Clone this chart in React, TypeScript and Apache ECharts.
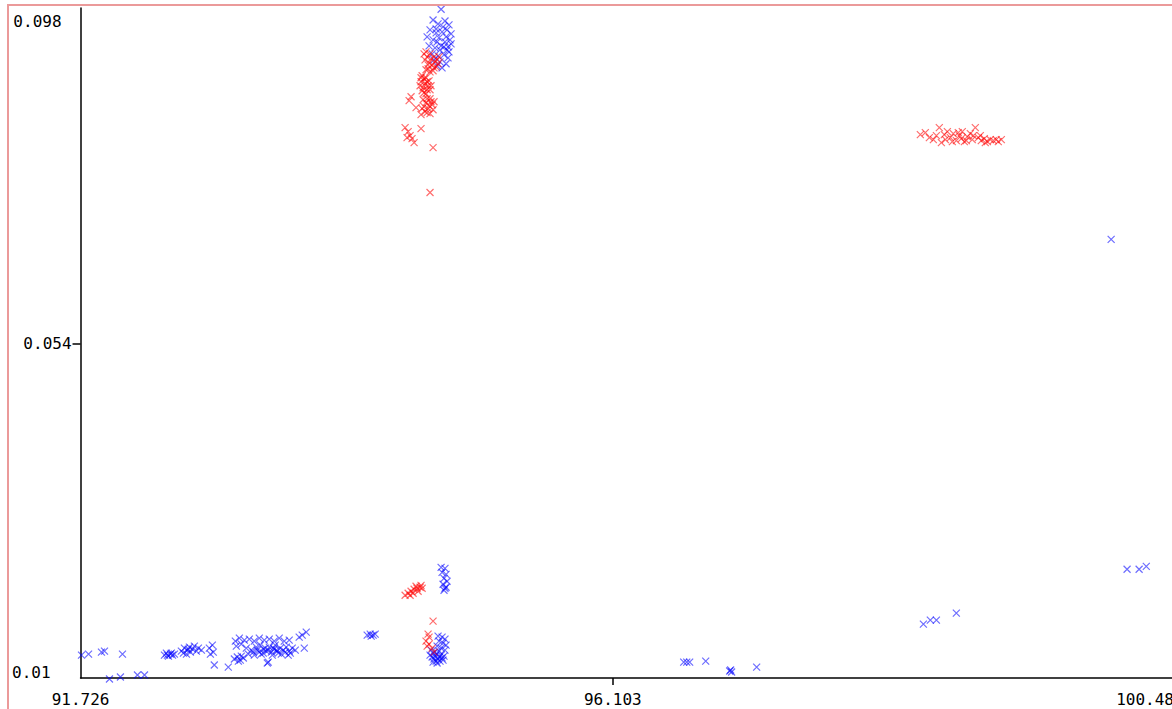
import React, { useEffect, useRef } from "react";
import * as echarts from "echarts";

// Axis ranges and tick labels
const xRange = [91.726, 100.759];
const yRange = [0.01, 0.09826];
const xTickValues = [91.726, 96.103, 100.48];
const xTickText = ["91.726", "96.103", "100.48"];
const yTickValues = [0.01, 0.054, 0.098];
const yTickText = ["0.01", "0.054", "0.098"];

// Blue series points [x, y]
const bluePoints: [number, number][] = [
  [91.734, 0.01302], [91.792, 0.01315], [91.898, 0.01341], [91.923, 0.01355], [92.071, 0.01315],
  [91.964, 0.00987], [92.054, 0.01013], [92.194, 0.01039], [92.252, 0.01039],
  [92.416, 0.01302], [92.432, 0.01328], [92.449, 0.01289], [92.465, 0.01315], [92.482, 0.01302],
  [92.498, 0.01315], [92.44, 0.01302], [92.473, 0.01328],
  [92.555, 0.01355], [92.58, 0.01394], [92.597, 0.01315], [92.605, 0.01368], [92.621, 0.01407],
  [92.629, 0.01341], [92.646, 0.01381], [92.662, 0.0142], [92.679, 0.01355], [92.695, 0.01394],
  [92.572, 0.01328], [92.613, 0.01381], [92.72, 0.01368], [92.785, 0.01394], [92.81, 0.01433],
  [92.794, 0.01315], [92.818, 0.01341],
  [92.826, 0.01171], [92.941, 0.01144],
  [92.999, 0.01486], [93.032, 0.01525], [93.073, 0.01499], [93.114, 0.01512], [93.155, 0.01486],
  [93.196, 0.01525], [93.237, 0.01499], [93.278, 0.01512], [93.319, 0.01486], [93.36, 0.01525],
  [93.401, 0.01486], [93.442, 0.01499], [93.007, 0.0142], [93.048, 0.01447],
  [93.089, 0.01394], [93.13, 0.01368], [93.171, 0.01407], [93.196, 0.01341], [93.229, 0.01381],
  [93.253, 0.01355], [93.278, 0.01407], [93.295, 0.01341], [93.319, 0.01381], [93.344, 0.01355],
  [93.368, 0.01394], [93.393, 0.01368], [93.418, 0.01407], [93.442, 0.01355], [93.467, 0.01394],
  [93.492, 0.01368], [93.229, 0.01328], [93.27, 0.01368], [93.311, 0.01394], [93.352, 0.01328],
  [93.147, 0.01341], [93.106, 0.01315],
  [93.18, 0.01368], [93.212, 0.01315], [93.245, 0.01394], [93.303, 0.01302], [93.336, 0.01368],
  [93.377, 0.01315], [93.41, 0.01341], [93.434, 0.01302], [93.204, 0.01433], [93.327, 0.01433],
  [93.451, 0.01328], [93.155, 0.01302],
  [92.991, 0.0125], [93.015, 0.01276], [93.04, 0.01236], [93.065, 0.01263], [93.024, 0.01223],
  [93.048, 0.01289],
  [93.27, 0.0121], [93.262, 0.01197], [93.524, 0.01539], [93.549, 0.01565], [93.582, 0.01604],
  [93.566, 0.01394],
  [94.083, 0.01565], [94.108, 0.01578], [94.132, 0.01565], [94.116, 0.01552], [94.149, 0.01578],
  [94.666, 0.01552], [94.699, 0.01539], [94.723, 0.01512], [94.674, 0.01486], [94.707, 0.0146],
  [94.732, 0.01433], [94.658, 0.0142], [94.691, 0.01394], [94.723, 0.01368],
  [94.608, 0.01368], [94.625, 0.01328], [94.641, 0.01289], [94.658, 0.01315], [94.674, 0.01276],
  [94.691, 0.01302], [94.633, 0.0125], [94.65, 0.01223], [94.666, 0.0125], [94.682, 0.01223],
  [94.699, 0.01263], [94.715, 0.01289], [94.617, 0.01276], [94.6, 0.01302], [94.641, 0.01341],
  [94.707, 0.01236], [94.658, 0.01197], [94.625, 0.0121], [94.674, 0.01355],
  [94.691, 0.02458], [94.723, 0.02445], [94.699, 0.02392], [94.732, 0.02366], [94.715, 0.02313],
  [94.74, 0.02274], [94.707, 0.02235], [94.723, 0.02182], [94.715, 0.02156], [94.732, 0.02195],
  [94.691, 0.0981], [94.625, 0.09668], [94.666, 0.09616], [94.723, 0.09655], [94.756, 0.09603],
  [94.6, 0.09537], [94.65, 0.0955], [94.699, 0.09511], [94.74, 0.09537], [94.773, 0.09485],
  [94.576, 0.09445], [94.625, 0.09406], [94.674, 0.09432], [94.723, 0.09379], [94.764, 0.09406],
  [94.592, 0.09327], [94.641, 0.09301], [94.691, 0.09327], [94.74, 0.09274], [94.617, 0.09222],
  [94.666, 0.09196], [94.715, 0.09209], [94.748, 0.09169], [94.633, 0.09143], [94.682, 0.09117],
  [94.732, 0.09091], [94.658, 0.09064], [94.699, 0.09038], [94.65, 0.09498], [94.707, 0.09577],
  [94.748, 0.09314],
  [94.732, 0.09445], [94.682, 0.09274], [94.756, 0.09248], [94.715, 0.09314], [94.658, 0.09379],
  [94.773, 0.09353],
  [96.686, 0.0121], [96.711, 0.0121], [96.735, 0.0121], [96.867, 0.01223],
  [97.064, 0.01092], [97.08, 0.01079], [97.072, 0.01105], [97.286, 0.01144],
  [98.657, 0.01709], [98.714, 0.01762], [98.764, 0.01762], [98.928, 0.01854],
  [100.201, 0.06779], [100.332, 0.02432], [100.431, 0.02432], [100.49, 0.0247],
];

// Red series points [x, y]
const redPoints: [number, number][] = [
  [94.567, 0.09248], [94.6, 0.09222], [94.633, 0.09182], [94.658, 0.09143], [94.559, 0.09143],
  [94.592, 0.09104], [94.617, 0.09077], [94.65, 0.09051], [94.584, 0.09025], [94.625, 0.08999],
  [94.666, 0.09091], [94.576, 0.09182],
  [94.551, 0.09222], [94.608, 0.09156], [94.641, 0.09117], [94.584, 0.09077], [94.633, 0.09038],
  [94.6, 0.08985], [94.674, 0.09182], [94.567, 0.09012],
  [94.535, 0.08933], [94.567, 0.08907], [94.526, 0.08854], [94.559, 0.08828], [94.592, 0.08867],
  [94.543, 0.08775], [94.576, 0.08749], [94.608, 0.08802], [94.551, 0.0871], [94.518, 0.08802],
  [94.551, 0.08894], [94.584, 0.08802], [94.535, 0.08736], [94.567, 0.08697], [94.6, 0.08749],
  [94.526, 0.08907], [94.576, 0.08854],
  [94.444, 0.08657], [94.428, 0.08605], [94.485, 0.08513], [94.543, 0.08618], [94.567, 0.08578],
  [94.6, 0.08631], [94.551, 0.08526], [94.584, 0.085], [94.617, 0.08552], [94.559, 0.0846],
  [94.526, 0.08421], [94.633, 0.08591],
  [94.576, 0.08631], [94.608, 0.08591], [94.592, 0.08539], [94.625, 0.08486], [94.576, 0.08447],
  [94.535, 0.085], [94.6, 0.08434],
  [94.526, 0.08237], [94.395, 0.0825], [94.42, 0.08197], [94.436, 0.08145], [94.452, 0.08105],
  [94.469, 0.08053], [94.411, 0.08119], [94.625, 0.07987], [94.6, 0.07396],
  [98.632, 0.08158], [98.673, 0.08184], [98.706, 0.08119], [98.739, 0.08092], [98.788, 0.0825],
  [98.805, 0.08053], [98.829, 0.08158], [98.854, 0.08197], [98.879, 0.08119], [98.903, 0.08171],
  [98.928, 0.08079], [98.953, 0.08145], [98.977, 0.08197], [98.994, 0.08066], [99.018, 0.08132],
  [99.043, 0.08171], [99.059, 0.08092], [99.084, 0.0825], [99.109, 0.08119], [99.133, 0.08079],
  [99.158, 0.08105], [99.183, 0.08066], [99.207, 0.08092], [99.232, 0.08079], [99.256, 0.08092],
  [99.298, 0.08092], [98.764, 0.08145], [98.969, 0.08105],
  [98.838, 0.08092], [98.895, 0.08066], [98.944, 0.08184], [99.01, 0.08079], [99.068, 0.08145],
  [99.125, 0.08145], [99.166, 0.08053], [99.273, 0.08066],
  [94.395, 0.0209], [94.42, 0.02116], [94.444, 0.02143], [94.469, 0.02169], [94.493, 0.02182],
  [94.518, 0.02195], [94.535, 0.02182], [94.461, 0.02116], [94.502, 0.02143], [94.436, 0.0209],
  [94.485, 0.02208], [94.526, 0.02221],
  [94.625, 0.01749], [94.584, 0.01578], [94.592, 0.01539], [94.567, 0.01486], [94.592, 0.01447],
  [94.617, 0.01394], [94.633, 0.01341], [94.576, 0.0142],
];

const FONT = "DejaVu Sans Mono";
const CROSS = "path://M0,0L8,8M8,0L0,8";

function nearestIndex(list: number[], v: number) {
  let best = 0;
  for (let i = 1; i < list.length; i++) {
    if (Math.abs(list[i] - v) < Math.abs(list[best] - v)) best = i;
  }
  return best;
}

export default function App() {
  const ref = useRef<HTMLDivElement>(null);

  useEffect(() => {
    if (!ref.current) return;
    const chart = echarts.init(ref.current, undefined, { renderer: "svg" });
    const labelText = { fontFamily: FONT, fontSize: 16, color: "#000" };
    chart.setOption({
      animation: false,
      backgroundColor: "#fff",
      grid: { left: 70, top: 2, width: 1100, height: 670, containLabel: false },
      xAxis: {
        type: "value",
        min: xRange[0],
        max: xRange[1],
        splitLine: { show: false },
        axisLine: { show: true, onZero: false, lineStyle: { color: "#000", width: 1.5 } },
        axisTick: { show: true, length: 7, customValues: [xTickValues[1]], lineStyle: { color: "#000", width: 1.5 } },
        axisLabel: {
          ...labelText,
          margin: 13,
          customValues: xTickValues,
          formatter: (v: number) => xTickText[nearestIndex(xTickValues, v)],
        },
      },
      yAxis: {
        type: "value",
        min: yRange[0],
        max: yRange[1],
        splitLine: { show: false },
        axisLine: { show: true, onZero: false, lineStyle: { color: "#000", width: 1.5 } },
        axisTick: { show: true, length: 8, customValues: [yTickValues[1]], lineStyle: { color: "#000", width: 1.5 } },
        axisLabel: {
          ...labelText,
          margin: 9,
          customValues: yTickValues,
          formatter: (v: number) => {
            const i = nearestIndex(yTickValues, v);
            if (i === 2) return `{top|${yTickText[2]}}`;
            if (i === 0) return `{bot|${yTickText[0]}}`;
            return `{mid|${yTickText[1]}}`;
          },
          rich: {
            top: { ...labelText, padding: [24, 10, 0, 0] },
            bot: { ...labelText, padding: [0, 21, 12, 0] },
            mid: { ...labelText },
          },
        },
      },
      series: [
        {
          name: "blue",
          type: "scatter",
          clip: false,
          symbol: CROSS,
          symbolSize: 7,
          itemStyle: { color: "rgba(0,0,0,0)", borderColor: "rgba(0,0,255,0.72)", borderWidth: 1.2 },
          data: bluePoints,
        },
        {
          name: "red",
          type: "scatter",
          clip: false,
          symbol: CROSS,
          symbolSize: 7,
          itemStyle: { color: "rgba(0,0,0,0)", borderColor: "rgba(255,0,0,0.72)", borderWidth: 1.2 },
          data: redPoints,
        },
      ],
    });
    return () => chart.dispose();
  }, []);

  return (
    <div style={{ position: "fixed", left: 0, top: 0, width: 1172, height: 709, overflow: "hidden", background: "#fff" }}>
      <div style={{ position: "absolute", left: 7, top: 4, border: "2px solid #eb9a9a", width: 1240, height: 740 }}>
        <div ref={ref} style={{ width: 1240, height: 740 }} />
      </div>
    </div>
  );
}
